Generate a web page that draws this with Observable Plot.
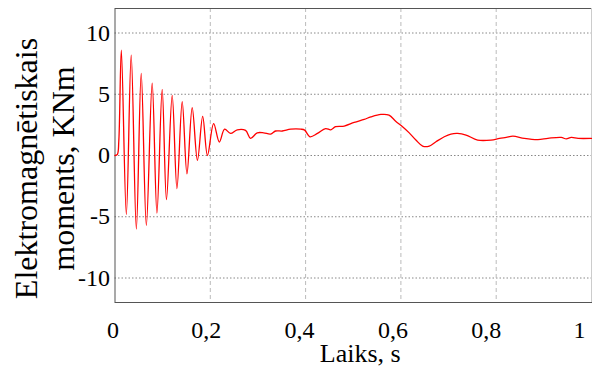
<!DOCTYPE html>
<html>
<head>
<meta charset="utf-8">
<script src="https://cdn.jsdelivr.net/npm/d3@7"></script>
<script src="https://cdn.jsdelivr.net/npm/@observablehq/plot@0.6"></script>
<style>
  body { margin: 0; background: #fff; }
  #chart { width: 592px; height: 372px; }
  #chart svg text { font-family: 'Liberation Serif', 'Times New Roman', serif; }
</style>
</head>
<body>
<div id="chart"></div>
<script>
// Electromagnetic torque during motor start-up (time in s, torque in kN·m)
const time = [
  0, 0.005, 0.008, 0.0133, 0.0238, 0.034, 0.0448, 0.055, 0.0658, 0.078,
  0.088, 0.099, 0.108, 0.12, 0.130, 0.141, 0.151, 0.162, 0.173, 0.184,
  0.194, 0.207, 0.219, 0.23, 0.2425, 0.2565, 0.274, 0.2845, 0.2985, 0.312,
  0.3266, 0.337, 0.351, 0.3687, 0.39, 0.398, 0.409, 0.4248, 0.442, 0.453,
  0.463, 0.481, 0.502, 0.523, 0.537, 0.558, 0.575, 0.589, 0.6035, 0.6175,
  0.6315, 0.6456, 0.6595, 0.6736, 0.691, 0.705, 0.719, 0.7367, 0.761, 0.789,
  0.807, 0.821, 0.835, 0.859, 0.8875, 0.9085, 0.9365, 0.947, 0.9575, 0.972, 1.0
];
const torque = [
  0, 0.1, 1.2, 8.6, -4.8, 8.2, -6.0, 6.7, -5.7, 5.9,
  -4.7, 5.4, -3.6, 4.9, -2.7, 4.4, -1.5, 3.9, -0.4, 3.2,
  0.0, 2.6, 1.1, 2.15, 1.8, 2.1, 2.05, 1.4, 1.85, 1.85,
  1.75, 2.0, 2.0, 2.15, 2.15, 2.07, 1.53, 1.8, 2.2, 2.1,
  2.35, 2.4, 2.7, 2.95, 3.15, 3.35, 3.3, 2.8, 2.35, 1.85,
  1.26, 0.77, 0.77, 1.12, 1.53, 1.75, 1.8, 1.67, 1.26, 1.26,
  1.4, 1.48, 1.58, 1.4, 1.3, 1.4, 1.48, 1.35, 1.48, 1.4, 1.4
];
const xTicks = [0, 0.2, 0.4, 0.6, 0.8, 1];
const yTicks = [-10, -5, 0, 5, 10];
const xTitle = "Laiks, s";
const yTitle = ["Elektromagnētiskais", "moments, KNm"];

const data = time.map((t, i) => ({t, m: torque[i]}));
const font = "'Liberation Serif', 'Times New Roman', serif";
const decimalComma = d => String(d).replace(".", ",");

const chart = Plot.plot({
  width: 592,
  height: 372,
  marginLeft: 114.5,
  marginRight: 1,
  marginTop: 8,
  marginBottom: 70,
  style: {fontFamily: font, background: "#fff", color: "#000", overflow: "visible"},
  x: {domain: [0, 1], label: null},
  y: {domain: [-12, 12], label: null},
  marks: [
    Plot.gridY(yTicks, {stroke: "#888", strokeOpacity: 1, strokeDasharray: "1.5,2"}),
    Plot.gridX(xTicks.slice(1, -1), {stroke: "#bbb", strokeOpacity: 1, strokeDasharray: "4,3"}),
    Plot.frame({stroke: "#555"}),
    Plot.ruleX([1], {stroke: "#ccc"}),
    Plot.axisY(yTicks, {
      tickSize: 0, tickPadding: 5, fontSize: 24,
      tickFormat: decimalComma, label: null
    }),
    Plot.axisX(xTicks, {
      tickSize: 0, tickPadding: 18, fontSize: 24,
      tickFormat: decimalComma, label: null
    }),
    Plot.line(data, {x: "t", y: "m", stroke: "#ff0000", strokeWidth: 1.3, curve: "catmull-rom"}),
    Plot.text([xTitle], {
      frameAnchor: "bottom", lineAnchor: "top", textAnchor: "middle",
      dx: 7, dy: 41.5, fontSize: 26
    }),
    Plot.text([yTitle.join("\n")], {
      frameAnchor: "left", rotate: -90, lineAnchor: "middle", textAnchor: "middle",
      dx: -71, dy: 13, fontSize: 32, lineHeight: 1.16
    })
  ]
});

// time labels sit slightly left of their grid lines, drifting further toward t = 1
chart.querySelectorAll('g[aria-label="x-axis tick label"] text').forEach((el, i) => {
  const shift = -(2 + 10 * xTicks[i]);
  el.setAttribute("transform", (el.getAttribute("transform") || "") + ` translate(${shift},0)`);
});

document.getElementById("chart").appendChild(chart);
</script>
</body>
</html>
